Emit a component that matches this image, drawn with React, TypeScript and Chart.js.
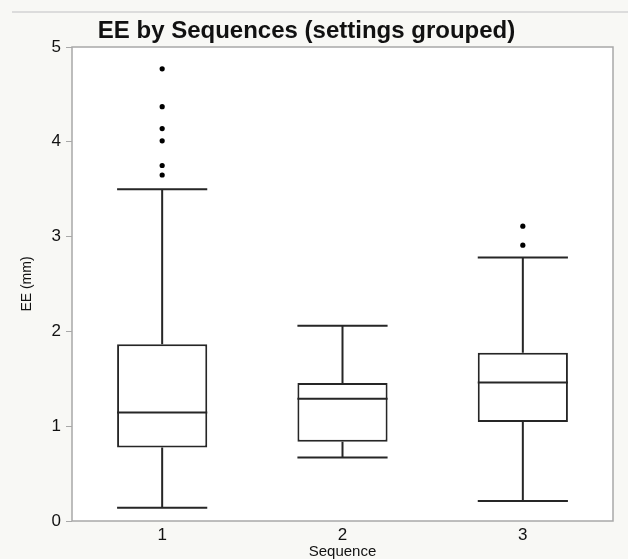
import React, { useEffect, useRef } from "react";
import { Chart, registerables } from "chart.js";

Chart.register(...registerables);

const categories = ["1", "2", "3"];
const whiskerLow = [0.14, 0.67, 0.21];
const q1 = [0.775, 0.835, 1.045];
const median = [1.145, 1.29, 1.46];
const q3 = [1.865, 1.455, 1.775];
const whiskerHigh = [3.5, 2.06, 2.78];
const outliers: number[][] = [
  [3.65, 3.75, 4.01, 4.14, 4.37, 4.77],
  [],
  [2.91, 3.11],
];
const yTicks = [0, 1, 2, 3, 4, 5];

const FONT = "'Liberation Sans', Arial, Helvetica, sans-serif";
const BOX_COLOR = "#262626";
const AXIS_COLOR = "#a8a8a8";

const backgroundPlugin = {
  id: "bgFrame",
  beforeDraw(chart: any) {
    const { ctx, width, height } = chart;
    ctx.save();
    ctx.fillStyle = "#f8f8f5";
    ctx.fillRect(0, 0, width, height);
    ctx.strokeStyle = "#dcdcdc";
    ctx.lineWidth = 2;
    ctx.beginPath();
    ctx.moveTo(12, 12);
    ctx.lineTo(width, 12);
    ctx.stroke();
    const a = chart.chartArea;
    ctx.fillStyle = "#ffffff";
    ctx.fillRect(a.left, a.top, a.right - a.left, a.bottom - a.top);
    ctx.restore();
  },
};

const boxPlugin = {
  id: "boxWhiskers",
  afterDatasetsDraw(chart: any) {
    const { ctx } = chart;
    const xs = chart.scales.x;
    const ys = chart.scales.y;
    const meta = chart.getDatasetMeta(0);
    ctx.save();
    ctx.strokeStyle = BOX_COLOR;
    ctx.lineWidth = 2;
    categories.forEach((_, i) => {
      const el = meta.data[i];
      const cx = xs.getPixelForValue(i);
      const half = el.width / 2;
      const yTop = ys.getPixelForValue(q3[i]);
      const yBot = ys.getPixelForValue(q1[i]);
      const yHi = ys.getPixelForValue(whiskerHigh[i]);
      const yLo = ys.getPixelForValue(whiskerLow[i]);
      const yMed = ys.getPixelForValue(median[i]);
      ctx.beginPath();
      ctx.moveTo(cx, yTop);
      ctx.lineTo(cx, yHi);
      ctx.moveTo(cx - half, yHi);
      ctx.lineTo(cx + half, yHi);
      ctx.moveTo(cx, yBot);
      ctx.lineTo(cx, yLo);
      ctx.moveTo(cx - half, yLo);
      ctx.lineTo(cx + half, yLo);
      ctx.moveTo(cx - half, yMed);
      ctx.lineTo(cx + half, yMed);
      ctx.stroke();
    });
    ctx.restore();
  },
  afterDraw(chart: any) {
    const { ctx } = chart;
    const a = chart.chartArea;
    ctx.save();
    ctx.strokeStyle = AXIS_COLOR;
    ctx.lineWidth = 1.5;
    ctx.strokeRect(a.left, a.top, a.right - a.left, a.bottom - a.top);
    ctx.restore();
  },
};

export default function App() {
  const ref = useRef<HTMLCanvasElement | null>(null);

  useEffect(() => {
    if (!ref.current) return;
    const outlierPoints: { x: string; y: number }[] = [];
    outliers.forEach((list, i) =>
      list.forEach((v) => outlierPoints.push({ x: categories[i], y: v }))
    );
    const chart = new Chart(ref.current, {
      type: "bar",
      data: {
        labels: categories,
        datasets: [
          {
            type: "bar",
            data: categories.map((_, i) => [q1[i], q3[i]]) as any,
            backgroundColor: "#ffffff",
            borderColor: BOX_COLOR,
            borderWidth: 2,
            borderSkipped: false,
            categoryPercentage: 1,
            barPercentage: 0.5,
          },
          {
            type: "line",
            data: outlierPoints as any,
            showLine: false,
            pointRadius: 2.6,
            pointBackgroundColor: "#000000",
            pointBorderWidth: 0,
            pointBorderColor: "#000000",
          } as any,
        ],
      },
      options: {
        animation: false,
        responsive: false,
        devicePixelRatio: 1,
        layout: { padding: { left: 0, right: 15, top: 0, bottom: 0 } },
        plugins: {
          legend: { display: false },
          tooltip: { enabled: false },
          title: {
            display: true,
            text: "EE by Sequences (settings grouped)",
            color: "#111111",
            font: { family: FONT, size: 24, weight: "bold" },
            padding: { top: 17, bottom: 1.2 },
          },
        },
        scales: {
          x: {
            type: "category",
            offset: true,
            grid: { display: false, drawTicks: false },
            border: { display: false },
            ticks: {
              color: "#111111",
              font: { family: FONT, size: 17 },
              padding: 4,
            },
            title: {
              display: true,
              text: "Sequence",
              color: "#111111",
              font: { family: FONT, size: 15 },
              padding: { top: 0, bottom: -2 },
            },
            afterFit: (s: any) => {
              s.height = 38;
            },
          },
          y: {
            min: 0,
            max: 5,
            afterBuildTicks: (s: any) => {
              s.ticks = yTicks.map((v) => ({ value: v }));
            },
            grid: {
              display: true,
              drawOnChartArea: false,
              drawTicks: true,
              tickLength: 6,
              color: AXIS_COLOR,
              lineWidth: 1,
            },
            border: { display: false },
            ticks: {
              color: "#111111",
              font: { family: FONT, size: 17 },
              padding: 5,
            },
            title: {
              display: true,
              text: "EE (mm)",
              color: "#111111",
              font: { family: FONT, size: 14 },
              padding: { top: 19, bottom: 0 },
            },
            afterFit: (s: any) => {
              s.width = 72;
            },
          },
        },
      },
      plugins: [backgroundPlugin, boxPlugin],
    });
    return () => chart.destroy();
  }, []);

  return (
    <div style={{ position: "absolute", left: 0, top: 0, width: 628, height: 559 }}>
      <canvas ref={ref} width={628} height={559} />
    </div>
  );
}
